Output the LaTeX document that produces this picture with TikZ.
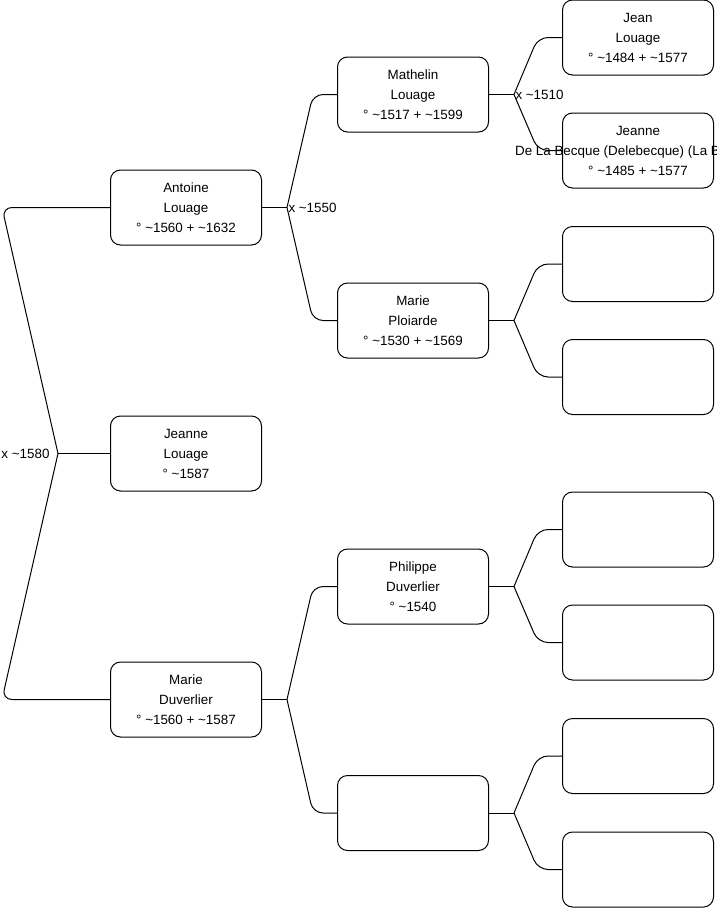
\documentclass[tikz,border=0pt]{standalone}
\usepackage{fontspec}
\setmainfont{Liberation Sans}
\usetikzlibrary{positioning}
\newcommand{\abt}{\textasciitilde}
% family fork: parent, upper child, lower child, marriage label
\newcommand{\fork}[4]{%
  \draw[link] (#1.east) -- ++(25,0) coordinate (#1-b) node[right, marr] {#4};
  \draw[link, rounded corners=10pt] (#1-b) -- ([xshift=-24pt]#2.west) -- (#2.west);
  \draw[link, rounded corners=10pt] (#1-b) -- ([xshift=-24pt]#3.west) -- (#3.west);
}
\tikzset{
  person/.style={draw, line width=1pt, rounded corners=10pt, minimum width=151pt, minimum height=75pt,
    inner sep=0pt, align=center, font=\fontsize{13.4}{20}\selectfont},
  link/.style={line width=1pt},
  marr/.style={inner sep=1pt, font=\fontsize{13.4}{15}\selectfont},
}
\begin{document}
\begin{tikzpicture}[x=1pt, y=1pt]
  \useasboundingbox (0,0) rectangle (716,-908);
  % generation 1
  \node[person] (jeanne) at (186,-453.5) {Jeanne\\Louage\\° \abt1587};
  \node[person, above=170pt of jeanne] (antoine) {Antoine\\Louage\\° \abt1560 + \abt1632};
  \node[person, below=170pt of jeanne] (marie) {Marie\\Duverlier\\° \abt1560 + \abt1587};
  % generation 2
  \node[person, right=75pt of antoine, yshift=113pt] (mathelin) {Mathelin\\Louage\\° \abt1517 + \abt1599};
  \node[person, right=75pt of antoine, yshift=-113pt] (ploiarde) {Marie\\Ploiarde\\° \abt1530 + \abt1569};
  \node[person, right=75pt of marie, yshift=113pt] (philippe) {Philippe\\Duverlier\\° \abt1540};
  \node[person, right=75pt of marie, yshift=-113.5pt] (mother4) {};
  % generation 3
  \node[person, right=73pt of mathelin, yshift=57pt] (jean) {Jean\\Louage\\° \abt1484 + \abt1577};
  \node[person, right=73pt of mathelin, yshift=-56pt] (becque)
    {Jeanne\\\makebox[0pt][c]{De La Becque (Delebecque) (La Becque)}\\° \abt1485 + \abt1577};
  \node[person, right=73pt of ploiarde, yshift=56.5pt] (gp3) {};
  \node[person, right=73pt of ploiarde, yshift=-56.5pt] (gm3) {};
  \node[person, right=73pt of philippe, yshift=57pt] (gp5) {};
  \node[person, right=73pt of philippe, yshift=-56pt] (gm5) {};
  \node[person, right=73pt of mother4, yshift=57pt] (gp7) {};
  \node[person, right=73pt of mother4, yshift=-56.5pt] (gm7) {};
  % root couple
  \draw[link] (jeanne.west) -- ++(-52,0) coordinate (root-b) node[left=7pt, marr] {x \abt1580};
  \draw[link, rounded corners=10pt] (root-b) -- ([xshift=-108pt]antoine.west) -- (antoine.west);
  \draw[link, rounded corners=10pt] (root-b) -- ([xshift=-108pt]marie.west) -- (marie.west);
  % ancestors
  \fork{antoine}{mathelin}{ploiarde}{x \abt1550}
  \fork{marie}{philippe}{mother4}{}
  \fork{mathelin}{jean}{becque}{x \abt1510}
  \fork{ploiarde}{gp3}{gm3}{}
  \fork{philippe}{gp5}{gm5}{}
  \fork{mother4}{gp7}{gm7}{}
\end{tikzpicture}
\end{document}
